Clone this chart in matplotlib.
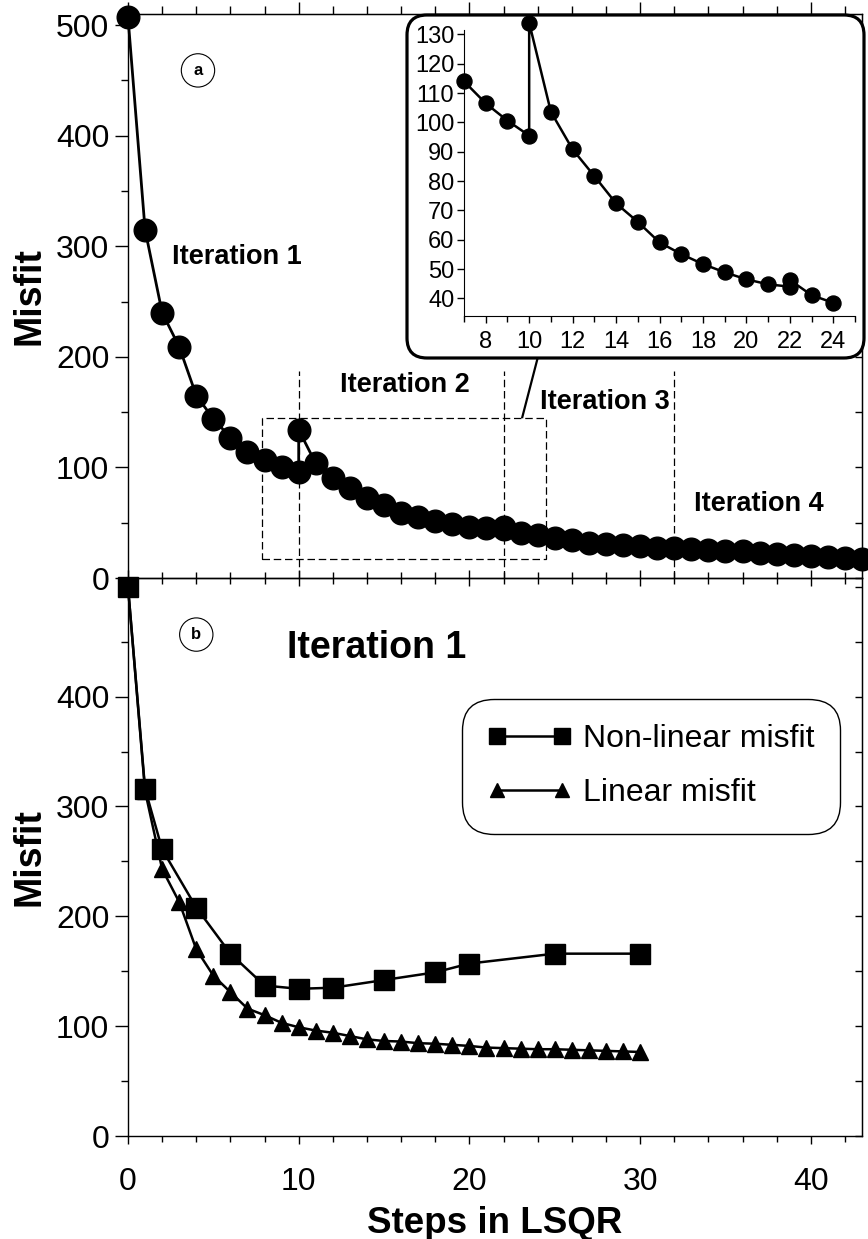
import matplotlib

matplotlib.use("Agg")
import matplotlib.pyplot as plt
from matplotlib.patches import FancyBboxPatch, Rectangle
from matplotlib.ticker import FixedLocator, MultipleLocator

plt.rcParams["font.family"] = ["Liberation Sans", "DejaVu Sans"]

# panel (a): misfit over all LSQR steps; a repeated step is the start of a new iteration
steps_a = [0, 1, 2, 3, 4, 5, 6, 7, 8, 9, 10, 10, 11, 12, 13, 14, 15, 16, 17, 18, 19, 20,
           21, 22, 22, 23, 24, 25, 26, 27, 28, 29, 30, 31, 32, 33, 34, 35, 36, 37, 38,
           39, 40, 41, 42, 43]
misfit_a = [507, 315, 240, 209, 165, 144, 127, 114, 106.5, 100.6, 95.5, 134, 103.6, 90.8,
            81.7, 72.4, 66.1, 59.1, 55.1, 51.7, 48.9, 46.5, 44.8, 44.0, 46.3, 41.1, 38.5,
            36, 34, 32, 31, 29.5, 28.5, 27.5, 27, 26.5, 25.5, 24.5, 24, 23, 22, 21, 19.5,
            19, 18, 17]
iteration_ends = [10, 22, 32]

# panel (b): first iteration only
steps_nonlin = [0, 1, 2, 4, 6, 8, 10, 12, 15, 18, 20, 25, 30]
misfit_nonlin = [500, 316, 261, 208, 166, 137, 134, 135, 142, 149, 157, 166, 166]
steps_lin = list(range(31))
misfit_lin = [500, 314, 243, 213, 170, 146, 131, 116, 110, 103, 99, 96, 94, 91, 88, 86.5,
              86, 84.5, 84, 83, 82, 80.5, 80, 79.5, 79, 79, 78.5, 78, 77.5, 77, 76.5]

W, H = 868, 1239
fig = plt.figure(figsize=(W / 100, H / 100), dpi=100)
ax_a = fig.add_axes([128 / W, 1 - 578 / H, 734 / W, 564 / H])
ax_b = fig.add_axes([128 / W, 1 - 1136 / H, 734 / W, 558 / H])

for ax in (ax_a, ax_b):
    ax.patch.set_visible(False)
    ax.set_xlim(0, 43)
    ax.xaxis.set_major_locator(MultipleLocator(10))
    ax.xaxis.set_minor_locator(MultipleLocator(2))
    ax.yaxis.set_minor_locator(MultipleLocator(50))
    ax.tick_params(axis="y", which="major", direction="out", length=9.5, width=1,
                   labelsize=23, pad=4)
    ax.tick_params(axis="y", which="minor", direction="out", length=5, width=1)
    for s in ax.spines.values():
        s.set_linewidth(1)
    right = ax.secondary_yaxis("right")
    right.yaxis.set_major_locator(MultipleLocator(50))
    right.tick_params(direction="in", length=5, width=1, labelright=False)
    ax.set_ylabel("Misfit", fontsize=27, fontweight="bold")
    ax.yaxis.set_label_coords(-0.11, 0.5)

ax_a.set_ylim(0, 510)
ax_b.set_ylim(0, 508)
ax_a.yaxis.set_major_locator(FixedLocator([0, 100, 200, 300, 400, 500]))
ax_b.yaxis.set_major_locator(FixedLocator([0, 100, 200, 300, 400]))

ax_a.tick_params(axis="x", which="major", direction="inout", length=12, width=1,
                 labelbottom=False)
ax_a.tick_params(axis="x", which="minor", direction="inout", length=9, width=1)
top = ax_a.secondary_xaxis("top")
top.xaxis.set_major_locator(MultipleLocator(10))
top.xaxis.set_minor_locator(MultipleLocator(2))
top.tick_params(which="major", direction="out", length=9, width=1, labeltop=False)
top.tick_params(which="minor", direction="out", length=6, width=1)

ax_b.tick_params(axis="x", which="major", direction="out", length=6, width=1,
                 labelsize=23, pad=16)
ax_b.tick_params(axis="x", which="minor", direction="out", length=4, width=1)
ax_b.set_xlabel("Steps in LSQR", fontsize=26.5, fontweight="bold", labelpad=7)

# ---- panel (a)
ax_a.plot(steps_a, misfit_a, "o-", color="black", ms=16.3, lw=2, clip_on=False, zorder=3)
dash = (0, (6, 3))
ax_a.vlines(iteration_ends, 0, 187, colors="black", linestyles=dash, lw=0.9)
ax_a.add_patch(Rectangle((7.84, 17), 24.5 - 7.84, 145 - 17, fill=False, ec="black",
                         ls=dash, lw=0.9))
ax_a.plot([23.1, 24.0], [145.5, 199], color="black", lw=1.6, clip_on=False)

bold = dict(fontweight="bold", ha="center", va="center")
ax_a.text(6.37, 290, "Iteration 1", fontsize=19.5, **bold)
ax_a.text(16.2, 174.5, "Iteration 2", fontsize=19.5, **bold)
ax_a.text(27.95, 159, "Iteration 3", fontsize=19.5, **bold)
ax_a.text(36.96, 67, "Iteration 4", fontsize=19.5, **bold)
circ = dict(boxstyle="circle,pad=0.55", fc="white", ec="black", lw=0.8)
ax_a.text(4.1, 459, "a", fontsize=12, bbox=circ, **bold)

# zoom inset of iteration 2
box = FancyBboxPatch((4.07, (H - 358) / 100), 4.57, 3.43,
                     boxstyle="round,pad=0,rounding_size=0.2",
                     transform=fig.dpi_scale_trans, fc="white", ec="black", lw=2.3,
                     zorder=3)
fig.add_artist(box)
ax_in = fig.add_axes([464 / W, 1 - 316 / H, 391 / W, 286 / H], zorder=4)
ax_in.patch.set_visible(False)
in_x = [s for s in steps_a if 7 <= s <= 24]
in_y = [m for s, m in zip(steps_a, misfit_a) if 7 <= s <= 24]
ax_in.plot(in_x, in_y, "o-", color="black", ms=10.8, lw=1.8, clip_on=False)
ax_in.set_xlim(7, 25)
ax_in.set_ylim(34, 131.5)
ax_in.xaxis.set_major_locator(MultipleLocator(2))
ax_in.xaxis.set_minor_locator(MultipleLocator(1))
ax_in.yaxis.set_major_locator(MultipleLocator(10))
ax_in.spines["top"].set_visible(False)
ax_in.spines["right"].set_visible(False)
ax_in.tick_params(which="major", direction="out", length=5, width=1, labelsize=17, pad=2)
ax_in.tick_params(axis="x", which="major", pad=6)
ax_in.tick_params(which="minor", direction="out", length=4, width=1)

# ---- panel (b)
ax_b.plot(steps_nonlin, misfit_nonlin, "s-", color="black", ms=13.7, lw=1.8,
          clip_on=False, zorder=4, label="Non-linear misfit")
ax_b.plot(steps_lin, misfit_lin, "^-", color="black", ms=12, lw=1.8,
          clip_on=False, zorder=3, label="Linear misfit")
ax_b.text(14.56, 444.6, "Iteration 1", fontsize=27, **bold)
ax_b.text(4.0, 456.5, "b", fontsize=12, bbox=circ, **bold)

leg = ax_b.legend(loc="center", bbox_to_anchor=(0.7125, 0.663), fontsize=23,
                  numpoints=2, handlelength=2.65, handletextpad=0.35, labelspacing=0.75,
                  borderpad=0.8, markerscale=0.85, fancybox=True, framealpha=1,
                  edgecolor="black")
leg.get_frame().set_boxstyle("round,pad=0,rounding_size=1.0")
leg.get_frame().set_linewidth(1)

fig.savefig("out.png", dpi=100)
